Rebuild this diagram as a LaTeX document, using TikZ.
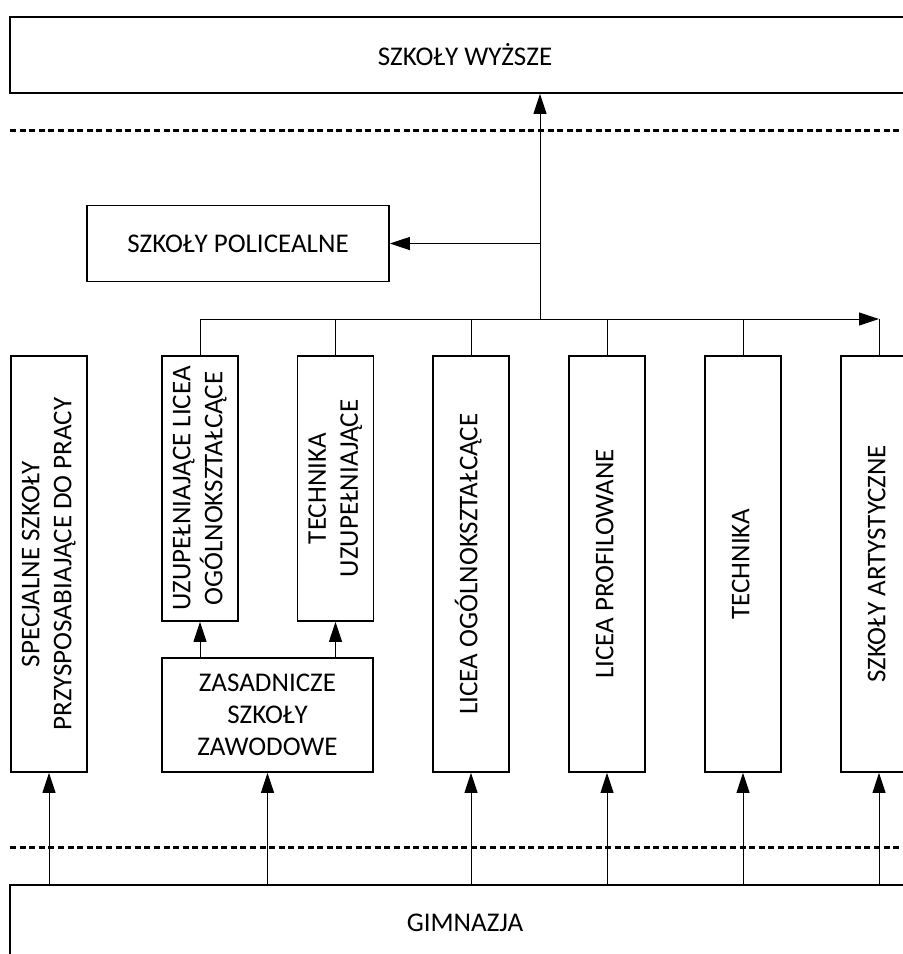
\documentclass[tikz,border=0pt]{standalone}
\usepackage{fontspec}
\setmainfont{Carlito}
\usetikzlibrary{arrows.meta}
\tikzset{
  box/.style={draw, line width=1.8pt, inner sep=0pt, align=center, font=\fontsize{27}{32}\selectfont},
  conn/.style={line width=1pt},
  arr/.style={conn, -{Triangle[length=20pt,width=13pt]}},
  sep/.style={line width=3pt, dash pattern=on 6pt off 3.6pt},
}
\newcommand{\vtext}[1]{\rotatebox{90}{\begin{tabular}{@{}c@{}}#1\end{tabular}}}
\begin{document}
\begin{tikzpicture}[x=1pt,y=-1pt]
\useasboundingbox (0,0) rectangle (903,954);
\clip (0,0) rectangle (903,954);
\fill[white] (0,0) rectangle (903,954);
% boxes
\node[box, minimum width=910pt, minimum height=76pt] (top) at (465,55) {SZKOŁY WYŻSZE};
\node[box, minimum width=302pt, minimum height=76pt] (pol) at (238,243.5) {SZKOŁY POLICEALNE};
\node[box, minimum width=76pt, minimum height=416pt] (spec) at (49,564) {\vtext{SPECJALNE SZKOŁY\\PRZYSPOSABIAJĄCE DO PRACY}};
\node[box, minimum width=76pt, minimum height=265pt] (ulo) at (200,488.5) {\vtext{UZUPEŁNIAJĄCE LICEA\\OGÓLNOKSZTAŁCĄCE}};
\node[box, minimum width=76pt, minimum height=265pt] (tu) at (335.5,488.5) {\vtext{TECHNIKA\\UZUPEŁNIAJĄCE}};
\node[box, minimum width=211pt, minimum height=114pt] (zas) at (267.5,715) {ZASADNICZE\\SZKOŁY\\ZAWODOWE};
\node[box, minimum width=76pt, minimum height=416pt] (lo) at (471,564) {\vtext{LICEA OGÓLNOKSZTAŁCĄCE}};
\node[box, minimum width=76pt, minimum height=416pt] (lp) at (607,564) {\vtext{LICEA PROFILOWANE}};
\node[box, minimum width=76pt, minimum height=416pt] (tech) at (743,564) {\vtext{TECHNIKA}};
\node[box, minimum width=76pt, minimum height=416pt] (art) at (879,564) {\vtext{SZKOŁY ARTYSTYCZNE}};
\node[box, minimum width=910pt, minimum height=76pt] (gim) at (465,923) {GIMNAZJA};
% separators
\coordinate (s1a) at (10,130); \coordinate (s1b) at (910,130);
\coordinate (s2a) at (10,847); \coordinate (s2b) at (910,847);
\draw[sep] (s1a) -- (s1b);
\draw[sep] (s2a) -- (s2b);
% trunk and bus
\coordinate (bus) at (540,319);
\coordinate (busend) at (art.north |- bus);
\draw[arr] (bus) -- (bus |- top.south);
\draw[arr] (bus |- pol.east) -- (pol.east);
\draw[conn] (ulo.north |- bus) -- (bus);
\draw[arr] (bus) -- (busend);
\foreach \n in {ulo,tu,lo,lp,tech} \draw[conn] (\n.north |- bus) -- (\n.north);
\draw[conn] (busend) -- (art.north);
% zasadnicze to upper boxes
\draw[arr] (zas.north -| ulo.south) -- (ulo.south);
\draw[arr] (zas.north -| tu.south) -- (tu.south);
% gimnazja arrows
\foreach \n in {spec,zas,lo,lp,tech,art} \draw[arr] (gim.north -| \n.south) -- (\n.south);
\end{tikzpicture}
\end{document}
